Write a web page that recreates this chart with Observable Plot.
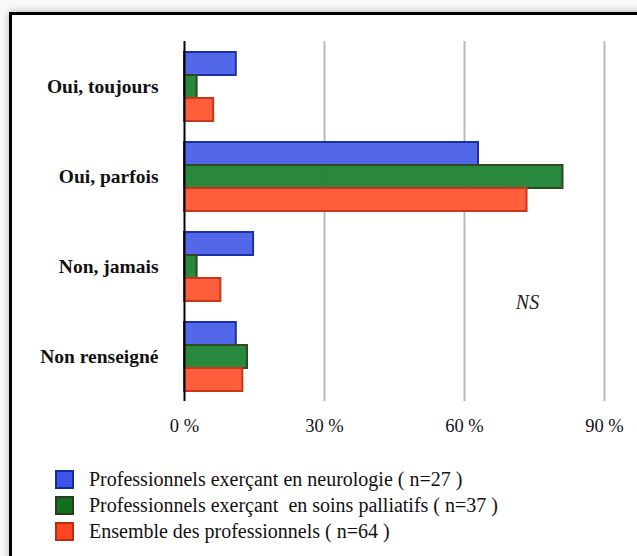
<!DOCTYPE html>
<html>
<head>
<meta charset="utf-8">
<script src="https://cdn.jsdelivr.net/npm/d3@7"></script>
<script src="https://cdn.jsdelivr.net/npm/@observablehq/plot@0.6"></script>
<style>
  html, body { margin: 0; padding: 0; }
  body { width: 637px; height: 556px; overflow: hidden; background: #fafafa; position: relative; font-family: "Liberation Serif", "Times New Roman", serif; }
  #frame { position: absolute; left: 9px; top: 12px; width: 700px; height: 600px; border: 3px solid #000; background: #fff; box-shadow: 0 0 9px rgba(0,0,0,0.28); }
  #chart { position: absolute; left: 0; top: 0; }
  #legend { position: absolute; left: 55px; top: 466px; font-size: 20px; color: #111; }
  .row { display: flex; align-items: center; height: 26px; white-space: pre; }
  .sw { width: 15px; height: 15px; border: 2px solid; margin-right: 15px; }
</style>
</head>
<body>
<div id="frame"></div>
<div id="chart"></div>
<div id="legend"></div>
<script>
const categories = ["Oui, toujours", "Oui, parfois", "Non, jamais", "Non renseigné"];
const seriesNames = [
  "Professionnels exerçant en neurologie ( n=27 )",
  "Professionnels exerçant  en soins palliatifs ( n=37 )",
  "Ensemble des professionnels ( n=64 )"
];
const neurologie = [11.1, 63.0, 14.8, 11.1];
const soinsPalliatifs = [2.7, 81.1, 2.7, 13.5];
const ensemble = [6.25, 73.4, 7.8, 12.5];
const xTicks = [0, 30, 60, 90];
const annotation = "NS";

const fills = ["#4a60e8", "#1e8232", "#ff5530"];
const strokes = ["#1d2fa6", "#2f4a22", "#c8361c"];
const swatchFills = ["#3d55e6", "#0f7022", "#ff4522"];
const swatchStrokes = ["#1428a0", "#2b3b1a", "#c22a0a"];

const seriesValues = [neurologie, soinsPalliatifs, ensemble];
const data = [];
seriesNames.forEach((s, si) => {
  categories.forEach((c, ci) => {
    data.push({ category: c, series: s, value: seriesValues[si][ci] });
  });
});

const chart = Plot.plot({
  width: 637,
  height: 440,
  marginLeft: 184,
  marginRight: 33,
  marginTop: 40,
  marginBottom: 38,
  style: { background: "transparent", fontFamily: "'Liberation Serif', 'Times New Roman', serif", color: "#111" },
  x: { domain: [0, 90], axis: null },
  fy: { domain: categories, padding: 0, axis: null },
  y: { domain: seriesNames, paddingInner: 0, paddingOuter: 0.44, axis: null },
  color: { domain: seriesNames, range: fills },
  marks: [
    Plot.ruleX(xTicks.slice(1), { stroke: "#b8b8b8", strokeWidth: 2 }),
    Plot.barX(data, {
      x: "value", y: "series", fy: "category",
      fill: "series", fillOpacity: 0.95,
      stroke: d => strokes[seriesNames.indexOf(d.series)], strokeWidth: 2
    }),
    Plot.ruleX([0], { stroke: "#000", strokeWidth: 2 }),
    Plot.axisX({
      ticks: xTicks, tickSize: 0, tickPadding: 17, tickFormat: d => d + " %",
      fontSize: 18.5, label: null, anchor: "bottom"
    }),
    Plot.axisFy({
      anchor: "left", tickSize: 0, tickPadding: 26,
      fontSize: 19.5, fontWeight: "bold", label: null
    }),
    Plot.text([annotation], {
      x: [73.5], fy: ["Non, jamais"], text: d => d,
      frameAnchor: "bottom", lineAnchor: "middle", dy: -9,
      fontSize: 20, fontStyle: "italic", fill: "#222"
    })
  ]
});
document.getElementById("chart").appendChild(chart);

const legend = document.getElementById("legend");
seriesNames.forEach((s, i) => {
  const row = document.createElement("div");
  row.className = "row";
  const sw = document.createElement("div");
  sw.className = "sw";
  sw.style.background = swatchFills[i];
  sw.style.borderColor = swatchStrokes[i];
  const t = document.createElement("span");
  t.textContent = s;
  row.appendChild(sw);
  row.appendChild(t);
  legend.appendChild(row);
});
</script>
</body>
</html>
